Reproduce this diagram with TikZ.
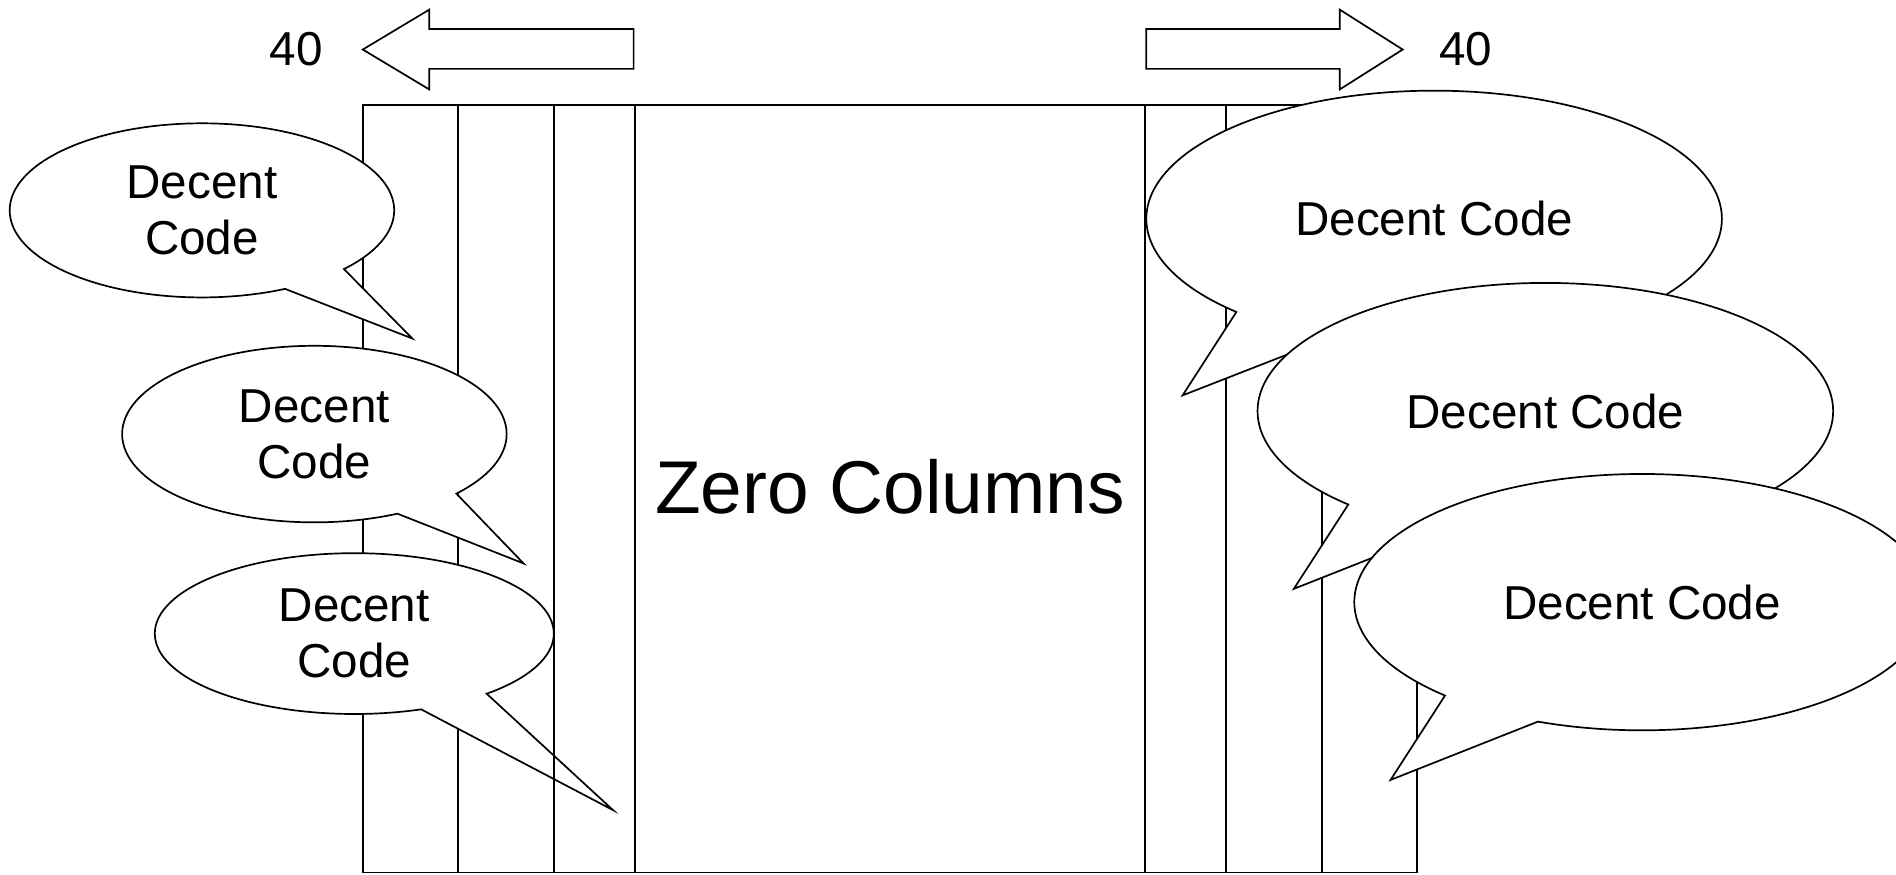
\documentclass[tikz,border=0pt]{standalone}
\usepackage{fontspec}
\setmainfont{Liberation Sans}
\usetikzlibrary{positioning,shapes.callouts}
\begin{document}
\begin{tikzpicture}[x=1cm,y=1cm,
  col/.style={draw, inner sep=0pt, outer sep=0pt, minimum height=6.345cm, font=\fontsize{17.6}{21}\selectfont},
  lbl/.style={font=\fontsize{11.2}{13.1}\selectfont},
  bubble/.style={ellipse callout, draw, fill=white, inner sep=0pt, callout pointer arc=22, align=center, lbl},
  small/.style={bubble, minimum width=3.18cm, minimum height=1.44cm},
  big/.style={bubble, minimum width=4.76cm, minimum height=2.12cm}]
\useasboundingbox (0,0) rectangle (15.68,7.23);
\clip (0,0) rectangle (15.68,7.23);
\node[col, minimum width=0.79cm, anchor=south west] (c1) at (3.00,0.015) {};
\node[col, minimum width=0.79cm, right=0pt of c1] (c2) {};
\node[col, minimum width=0.67cm, right=0pt of c2] (c3) {};
\node[col, minimum width=4.22cm, right=0pt of c3, text depth=0.04cm] (c4) {Zero Columns};
\node[col, minimum width=0.67cm, right=0pt of c4] (c5) {};
\node[col, minimum width=0.79cm, right=0pt of c5] (c6) {};
\node[col, minimum width=0.79cm, right=0pt of c6] (c7) {};
\node[lbl] (l40) at (2.45,6.82) {40};
\node[lbl] (r40) at (12.12,6.82) {40};
\draw (5.24,6.99) -- (3.55,6.99) -- (3.55,7.15) -- (3.00,6.82) -- (3.55,6.49) -- (3.55,6.66) -- (5.24,6.66) -- cycle;
\draw (9.48,6.99) -- (11.08,6.99) -- (11.08,7.15) -- (11.60,6.82) -- (11.08,6.49) -- (11.08,6.66) -- (9.48,6.66) -- cycle;
\node[small, callout absolute pointer={(3.41,4.43)}] (b1) at (1.67,5.49) {Decent\\Code};
\node[small, minimum height=1.46cm, callout absolute pointer={(4.33,2.57)}] (b2) at (2.60,3.64) {Decent\\Code};
\node[small, minimum width=3.30cm, minimum height=1.33cm, callout absolute pointer={(5.07,0.53)}] (b3) at (2.93,1.99) {Decent\\Code};
\draw (c3.south west) -- (c3.north west);
\node[big, callout absolute pointer={(9.78,3.96)}] (b4) at (11.86,5.42) {Decent Code};
\node[big, callout absolute pointer={(10.70,2.36)}] (b5) at (12.78,3.83) {Decent Code};
\node[big, callout absolute pointer={(11.50,0.78)}] (b6) at (13.58,2.25) {Decent Code};
\end{tikzpicture}
\end{document}
